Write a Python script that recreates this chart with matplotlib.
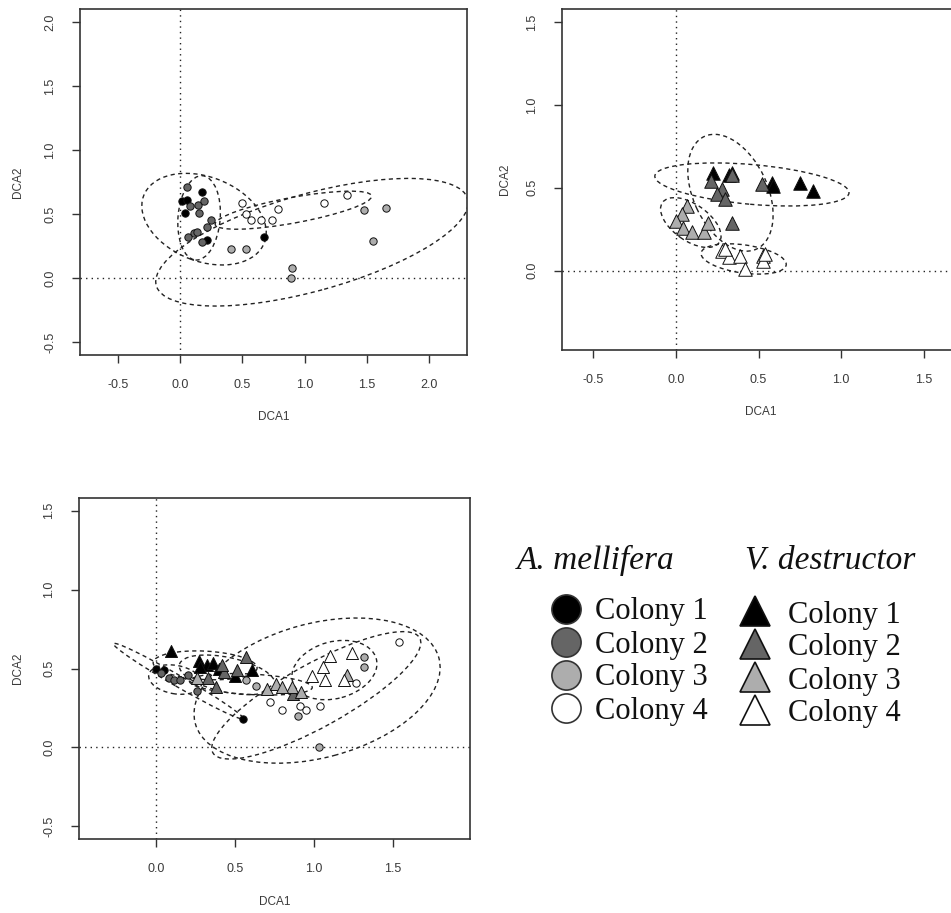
import matplotlib
matplotlib.use("Agg")
import matplotlib.pyplot as plt
from matplotlib.patches import Ellipse

# ---------------- data ----------------
colony_labels = ["Colony 1", "Colony 2", "Colony 3", "Colony 4"]
colony_fill = ["#000000", "#656565", "#adadad", "#ffffff"]

# Panel 1 (top-left): A. mellifera
tl_am_x = [
    [0.01, 0.055, 0.175, 0.04, 0.215, 0.67],
    [0.05, 0.08, 0.14, 0.19, 0.15, 0.25, 0.21, 0.11, 0.06, 0.17, 0.13],
    [0.41, 0.53, 0.90, 0.89, 1.48, 1.55, 1.66],
    [0.50, 0.53, 0.57, 0.65, 0.74, 0.79, 1.16, 1.34],
]
tl_am_y = [
    [0.60, 0.61, 0.67, 0.51, 0.30, 0.32],
    [0.71, 0.56, 0.57, 0.60, 0.51, 0.45, 0.40, 0.35, 0.32, 0.28, 0.36],
    [0.23, 0.23, 0.08, 0.00, 0.53, 0.29, 0.55],
    [0.59, 0.50, 0.45, 0.45, 0.45, 0.54, 0.59, 0.65],
]
tl_ell_cx = [0.19, 0.15, 1.06, 0.91]
tl_ell_cy = [0.46, 0.47, 0.28, 0.53]
tl_ell_w = [1.04, 0.34, 2.60, 1.28]
tl_ell_h = [0.66, 0.66, 0.76, 0.20]
tl_ell_ang = [-20, -5, 15, 10]

# Panel 2 (top-right): V. destructor
tr_vd_x = [
    [0.225, 0.32, 0.34, 0.58, 0.59, 0.75, 0.83],
    [0.21, 0.28, 0.25, 0.30, 0.52, 0.34, 0.34],
    [0.065, 0.035, 0.00, 0.045, 0.095, 0.17, 0.195],
    [0.28, 0.32, 0.39, 0.42, 0.53, 0.53, 0.30, 0.54],
]
tr_vd_y = [
    [0.59, 0.58, 0.59, 0.53, 0.51, 0.53, 0.48],
    [0.54, 0.49, 0.46, 0.43, 0.52, 0.29, 0.58],
    [0.39, 0.34, 0.30, 0.26, 0.23, 0.23, 0.29],
    [0.12, 0.08, 0.085, 0.012, 0.09, 0.06, 0.13, 0.10],
]
tr_ell_cx = [0.46, 0.33, 0.09, 0.41]
tr_ell_cy = [0.52, 0.47, 0.29, 0.07]
tr_ell_w = [1.18, 0.75, 0.42, 0.52]
tr_ell_h = [0.24, 0.45, 0.22, 0.17]
tr_ell_ang = [-5, -65, -35, -8]

# Panel 3 (bottom-left): both species
bl_am_x = [
    [0.00, 0.05, 0.55],
    [0.08, 0.11, 0.15, 0.20, 0.26, 0.03],
    [0.57, 0.63, 1.03, 1.32, 1.32, 0.90],
    [0.72, 0.80, 0.91, 0.95, 1.04, 1.27, 1.54],
]
bl_am_y = [
    [0.50, 0.49, 0.18],
    [0.44, 0.43, 0.43, 0.46, 0.36, 0.47],
    [0.43, 0.39, 0.00, 0.57, 0.51, 0.20],
    [0.29, 0.24, 0.26, 0.24, 0.26, 0.41, 0.67],
]
bl_vd_x = [
    [0.095, 0.27, 0.32, 0.36, 0.40, 0.50, 0.61, 0.28],
    [0.57, 0.51, 0.43, 0.33, 0.38, 0.87, 0.42],
    [0.26, 0.70, 0.76, 0.86, 0.92, 1.21, 0.80],
    [1.10, 1.24, 1.06, 0.99, 1.07, 1.19],
]
bl_vd_y = [
    [0.61, 0.545, 0.52, 0.535, 0.50, 0.45, 0.49, 0.51],
    [0.57, 0.49, 0.48, 0.44, 0.38, 0.34, 0.52],
    [0.44, 0.37, 0.40, 0.38, 0.35, 0.46, 0.38],
    [0.58, 0.60, 0.51, 0.45, 0.43, 0.43],
]
bl_ell_cx = [0.14, 0.12, 1.015, 1.02, 0.31, 0.45, 0.60, 1.13]
bl_ell_cy = [0.42, 0.43, 0.33, 0.36, 0.52, 0.46, 0.40, 0.49]
bl_ell_w = [0.95, 0.34, 1.50, 1.60, 0.66, 0.62, 0.78, 0.55]
bl_ell_h = [0.07, 0.18, 0.40, 0.85, 0.18, 0.22, 0.13, 0.36]
bl_ell_ang = [-30, -10, 29, 15, -3, -12, -3, 15]

tl_xticks = [-0.5, 0.0, 0.5, 1.0, 1.5, 2.0]
tl_yticks = [-0.5, 0.0, 0.5, 1.0, 1.5, 2.0]
tr_xticks = [-0.5, 0.0, 0.5, 1.0, 1.5]
tr_yticks = [0.0, 0.5, 1.0, 1.5]
bl_xticks = [0.0, 0.5, 1.0, 1.5]
bl_yticks = [-0.5, 0.0, 0.5, 1.0, 1.5]

# ---------------- figure ----------------
W, H = 951, 913
fig = plt.figure(figsize=(W / 100, H / 100), dpi=100)
fig.patch.set_facecolor("white")
SANS = ["Liberation Sans", "DejaVu Sans"]
SERIF = ["Liberation Serif", "DejaVu Serif"]
TXT = "#3a3a3a"


def px_axes(left, top, right, bottom):
    return fig.add_axes([left / W, 1 - bottom / H, (right - left) / W, (bottom - top) / H])


def style(ax, xlim, ylim, xt, yt, xlab_off, ylab_off):
    ax.set_xlim(*xlim)
    ax.set_ylim(*ylim)
    ax.set_xticks(xt)
    ax.set_yticks(yt)
    ax.set_xticklabels([f"{v:.1f}" for v in xt], family=SANS, fontsize=9, color=TXT)
    ax.set_yticklabels([f"{v:.1f}" for v in yt], family=SANS, fontsize=9, color=TXT,
                       rotation=90, va="center")
    for s in ax.spines.values():
        s.set_linewidth(1.2)
        s.set_color("#333333")
    ax.tick_params(direction="out", length=6, width=1, color="#333333", pad=11)
    ax.axhline(0, ls=(0, (1, 3)), color="#222222", lw=1)
    ax.axvline(0, ls=(0, (1, 3)), color="#222222", lw=1)
    bb = ax.get_position()
    hpx = bb.height * H
    wpx = bb.width * W
    ax.set_xlabel("DCA1", family=SANS, fontsize=8.5, color=TXT)
    ax.xaxis.set_label_coords(0.5, -xlab_off / hpx)
    ax.xaxis.label.set_va("center")
    ax.set_ylabel("DCA2", family=SANS, fontsize=8.5, color=TXT)
    ax.yaxis.set_label_coords(-ylab_off / wpx, 0.5)
    ax.yaxis.label.set_va("center")


def ellipses(ax, cx, cy, w, h, ang):
    for i in range(len(cx)):
        ax.add_patch(Ellipse((cx[i], cy[i]), w[i], h[i], angle=ang[i], fill=False,
                             ls=(0, (3, 2.5)), lw=1.0, ec="#222222", zorder=3))


def points(ax, xs, ys, marker, s):
    for i in range(4):
        ax.scatter(xs[i], ys[i], marker=marker, s=s, c=colony_fill[i],
                   edgecolors="#111111", linewidths=0.7, zorder=4)


# Top-left
ax1 = px_axes(80, 9, 467, 355)
style(ax1, (-0.81, 2.31), (-0.60, 2.10), tl_xticks, tl_yticks, 62, 62)
ellipses(ax1, tl_ell_cx, tl_ell_cy, tl_ell_w, tl_ell_h, tl_ell_ang)
points(ax1, tl_am_x, tl_am_y, "o", 28)

# Top-right
ax2 = px_axes(562, 9, 960, 350)
style(ax2, (-0.69, 1.72), (-0.48, 1.58), tr_xticks, tr_yticks, 62, 57)
ellipses(ax2, tr_ell_cx, tr_ell_cy, tr_ell_w, tr_ell_h, tr_ell_ang)
points(ax2, tr_vd_x, tr_vd_y, "^", 95)

# Bottom-left
ax3 = px_axes(79, 498, 470, 839)
style(ax3, (-0.49, 1.99), (-0.58, 1.58), bl_xticks, bl_yticks, 63, 61)
ellipses(ax3, bl_ell_cx, bl_ell_cy, bl_ell_w, bl_ell_h, bl_ell_ang)
points(ax3, bl_am_x, bl_am_y, "o", 28)
points(ax3, bl_vd_x, bl_vd_y, "^", 75)

# ---------------- legend ----------------
leg = fig.add_axes([0, 0, 1, 1])
leg.set_xlim(0, W)
leg.set_ylim(H, 0)
leg.axis("off")
leg.patch.set_alpha(0)

title_y = 560
row0, drow = 609, 33
leg.text(517, title_y, "A. mellifera", family=SERIF, style="italic", fontsize=24,
         va="center", ha="left", color="#111111")
leg.text(745, title_y, "V. destructor", family=SERIF, style="italic", fontsize=24,
         va="center", ha="left", color="#111111")
for i, lab in enumerate(colony_labels):
    y = row0 + i * drow
    leg.plot([566], [y], marker="o", ms=21, mfc=colony_fill[i], mec="#333333", mew=1.2)
    leg.text(595, y + 3, lab, family=SERIF, fontsize=22, va="center", ha="left",
             color="#111111")
    leg.plot([755], [y + 2], marker="^", ms=22, mfc=colony_fill[i], mec="#111111", mew=1.2)
    leg.text(788, y + 6, lab, family=SERIF, fontsize=22, va="center", ha="left",
             color="#111111")

fig.savefig("out.png", dpi=100)
